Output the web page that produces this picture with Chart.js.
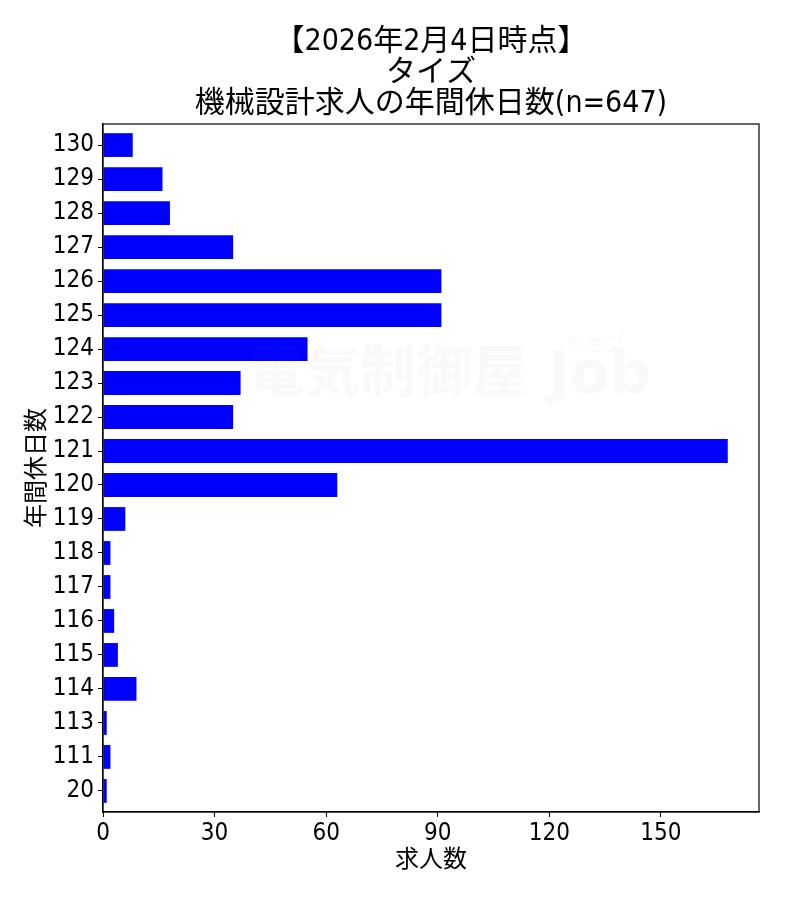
<!DOCTYPE html>
<html>
<head>
<meta charset="utf-8">
<script src="https://cdn.jsdelivr.net/npm/chart.js@4.4.1/dist/chart.umd.min.js"></script>
<style>
html,body{margin:0;padding:0;background:#fff;}
#wrap{width:800px;height:900px;position:relative;}
</style>
</head>
<body>
<div id="wrap"><canvas id="c" width="800" height="900"></canvas></div>
<script>
// ---- data ----
const categories = ["130","129","128","127","126","125","124","123","122","121","120","119","118","117","116","115","114","113","111","20"];
const jobCounts  = [8, 16, 18, 35, 91, 91, 55, 37, 35, 168, 63, 6, 2, 2, 3, 4, 9, 1, 2, 1];
const xTicks = [0, 30, 60, 90, 120, 150];
const titleLines = ["【2026年2月4日時点】", "タイズ", "機械設計求人の年間休日数(n=647)"];
const xTitle = "求人数";
const yTitle = "年間休日数";

const FONT = "'Liberation Sans Narrow','DejaVu Sans Condensed','Noto Sans CJK JP',sans-serif";

const decor = {
  id: 'decor',
  afterDatasetsDraw(chart) {
    const ctx = chart.ctx, a = chart.chartArea;
    ctx.save();
    // watermark
    ctx.fillStyle = 'rgba(120,120,120,0.045)';
    ctx.textAlign = 'left';
    ctx.textBaseline = 'middle';
    ctx.font = "bold 56px 'Noto Sans CJK JP'";
    ctx.fillText('電気制御屋', 248, 370);
    ctx.font = "bold 58px 'DejaVu Sans'";
    ctx.fillText('Job', 548, 378);
    ctx.font = "20px 'Noto Sans CJK JP'";
    ctx.fillText('ジョブ', 565, 343);
    // frame
    ctx.strokeStyle = '#000';
    ctx.lineWidth = 1.2;
    ctx.strokeRect(a.left, a.top, a.right - a.left, a.bottom - a.top);
    ctx.restore();
  },
  afterDraw(chart) {
    const ctx = chart.ctx, a = chart.chartArea;
    const cx = (a.left + a.right) / 2;
    ctx.save();
    ctx.fillStyle = '#000';
    ctx.textAlign = 'center';
    ctx.textBaseline = 'middle';
    ctx.font = "30px " + FONT;
    const ys = [42, 73, 104];
    titleLines.forEach((t, i) => ctx.fillText(t, cx, ys[i]));
    ctx.font = "24px " + FONT;
    ctx.fillText(xTitle, cx, 861);
    ctx.translate(38, (a.top + a.bottom) / 2);
    ctx.rotate(-Math.PI / 2);
    ctx.fillText(yTitle, 0, 0);
    ctx.restore();
  }
};

new Chart(document.getElementById('c'), {
  type: 'bar',
  data: {
    datasets: [{
      data: jobCounts.map((v, i) => ({ x: v, y: i })),
      backgroundColor: '#0000ff',
      borderWidth: 0,
      barPercentage: 0.7,
      categoryPercentage: 1.0
    }]
  },
  options: {
    indexAxis: 'y',
    responsive: false,
    animation: false,
    devicePixelRatio: 1,
    layout: { padding: { top: 124, right: 41, left: 0, bottom: 0 } },
    plugins: { legend: { display: false }, tooltip: { enabled: false }, title: { display: false } },
    scales: {
      x: {
        type: 'linear',
        min: 0,
        max: 176.4,
        afterFit(s) { s.height = 88; },
        afterBuildTicks(s) { s.ticks = xTicks.map(v => ({ value: v })); },
        ticks: { includeBounds: false, color: '#000', padding: 2, font: { family: FONT, size: 24 }, maxRotation: 0 },
        grid: { drawOnChartArea: false, drawTicks: true, tickLength: 5, color: '#000', lineWidth: 1 },
        border: { display: true, color: '#000', width: 1.2 }
      },
      y: {
        type: 'linear',
        reverse: true,
        offset: false,
        min: -0.62,
        max: categories.length - 1 + 0.62,
        afterFit(s) { s.width = 103; },
        afterBuildTicks(s) { s.ticks = categories.map((c, i) => ({ value: i })); },
        ticks: { includeBounds: false, color: '#000', padding: 4, font: { family: FONT, size: 24 }, autoSkip: false,
                 callback: (v) => categories[v] },
        grid: { offset: false, drawOnChartArea: false, drawTicks: true, tickLength: 5, color: '#000', lineWidth: 1 },
        border: { display: true, color: '#000', width: 1.2 }
      }
    }
  },
  plugins: [decor]
});
</script>
</body>
</html>
